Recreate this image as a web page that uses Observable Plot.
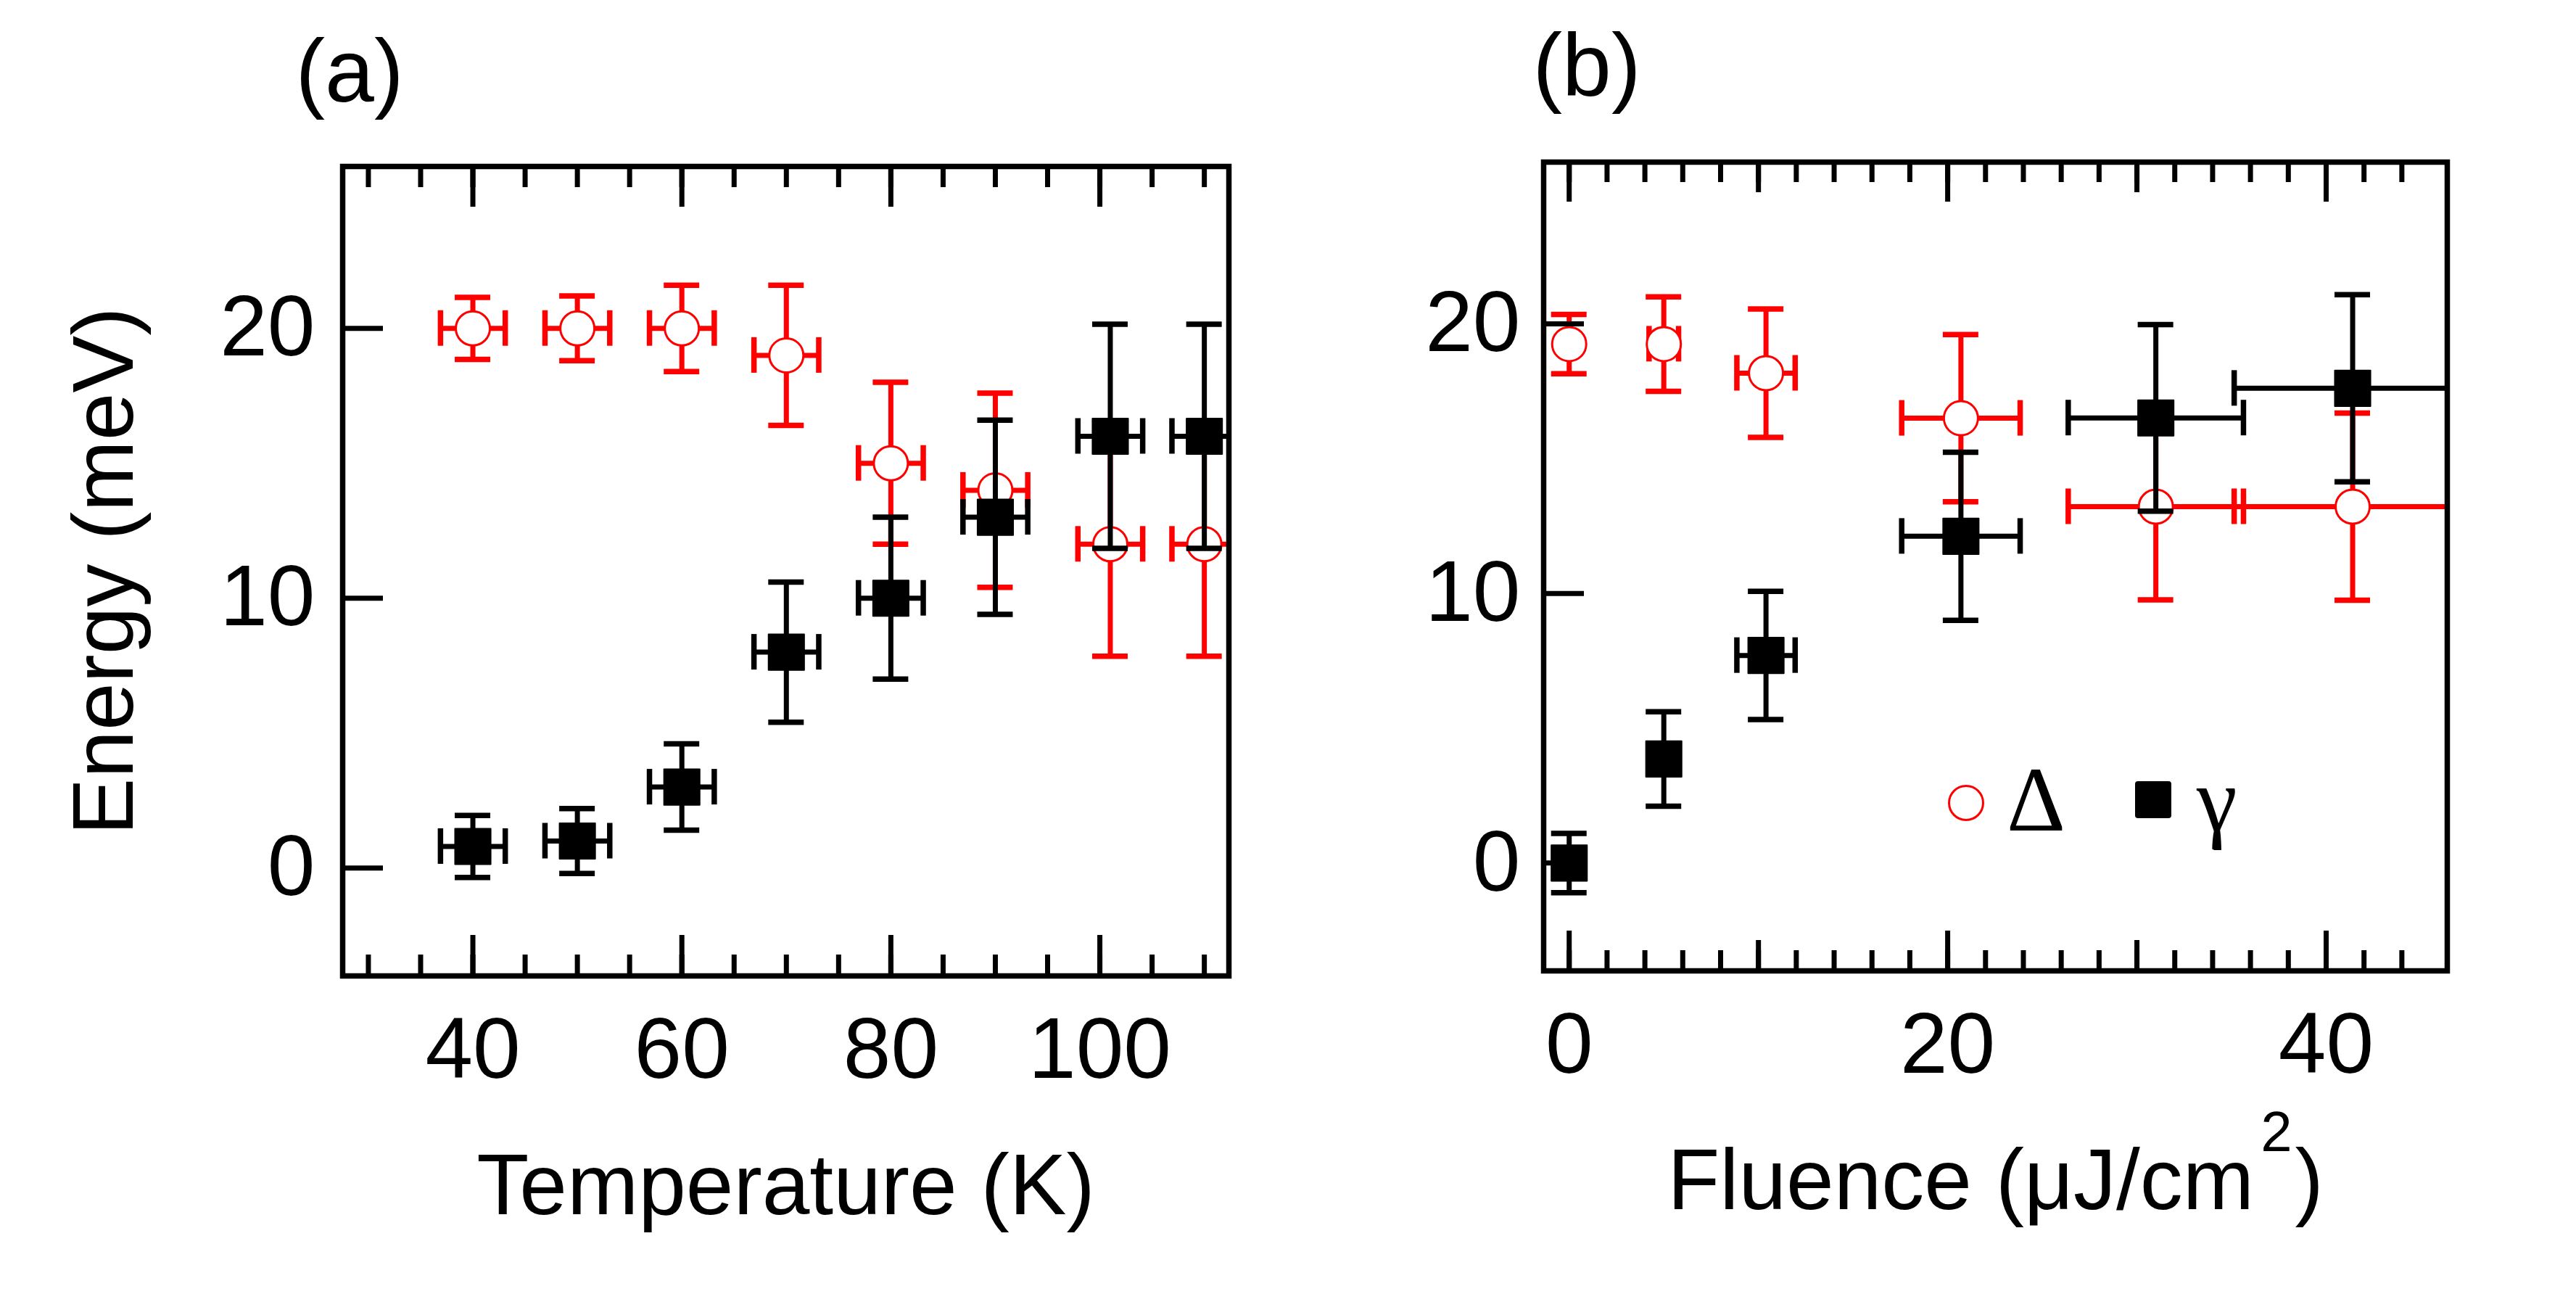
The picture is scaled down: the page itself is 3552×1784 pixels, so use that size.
<!DOCTYPE html>
<html>
<head>
<meta charset="utf-8">
<script src="https://cdn.jsdelivr.net/npm/d3@7"></script>
<script src="https://cdn.jsdelivr.net/npm/@observablehq/plot@0.6"></script>
<style>
  html, body { margin: 0; padding: 0; background: #fff; }
  #wrap { position: relative; width: 3552px; height: 1784px; overflow: hidden; background: #fff; }
  #pa, #pb { position: absolute; top: 0; }
  #pa { left: 0; }
  #pb { left: 1776px; }
  #overlay { position: absolute; left: 0; top: 0; pointer-events: none; }
</style>
</head>
<body>
<div id="wrap">
  <div id="pa"></div>
  <div id="pb"></div>
  <svg id="overlay" width="3552" height="1784" xmlns="http://www.w3.org/2000/svg"></svg>
</div>
<script>
// ---------- Data: panel (a) temperature dependence ----------
const tempK      = [40, 50, 60, 70, 80, 90, 101, 110];
const tempErrK   = [3.1, 3.1, 3.1, 3.1, 3.1, 3.1, 3.1, 3.1];
const deltaT     = [20, 20, 20, 19, 15, 14, 12, 12];
const deltaTErr  = [1.15, 1.2, 1.6, 2.6, 3.0, 3.6, 4.15, 4.15];
const gammaT     = [0.8, 1.0, 3.0, 8.0, 10.0, 13.0, 16.0, 16.0];
const gammaTErr  = [1.15, 1.2, 1.6, 2.6, 3.0, 3.6, 4.15, 4.15];

// ---------- Data: panel (b) fluence dependence ----------
const fluence    = [0, 5, 10.4, 20.7, 31.0, 41.4];
const fluenceErr = [0, 0.78, 1.54, 3.13, 4.63, 6.26];
const deltaF     = [19.25, 19.25, 18.17, 16.5, 13.22, 13.22];
const deltaFErr  = [1.1, 1.75, 2.38, 3.1, 3.46, 3.47];
const gammaF     = [0, 3.86, 7.7, 12.12, 16.51, 17.61];
const gammaFErr  = [1.1, 1.75, 2.38, 3.12, 3.46, 3.47];

// ---------- Ticks / labels ----------
const aTickMinor = [30, 35, 40, 45, 50, 55, 60, 65, 70, 75, 80, 85, 90, 95, 100, 105, 110];
const aTickMajor = [40, 60, 80, 100];
const bTickMinor = [0, 2, 4, 6, 8, 10, 12, 14, 16, 18, 20, 22, 24, 26, 28, 30, 32, 34, 36, 38, 40, 42, 44];
const bTickMid   = [10, 30];
const bTickMajor = [0, 20, 40];
const yTicks     = [0, 10, 20];
const panelLabels = ["(a)", "(b)"];
const legendLabels = ["Δ", "γ"];
const xTitleA = "Temperature (K)";
const xTitleB = "Fluence (μJ/cm2)";
const yTitle = "Energy (meV)";

const RED = "#ff0000", BLACK = "#000000";
const W = 1776, H = 1784, CAP = 24.5, FONT = "'Liberation Sans', Arial, Helvetica, sans-serif";

function rows(xs, xe, ys, ye) {
  return xs.map((x, i) => ({x, xe: xe[i], y: ys[i], ye: ye[i]}));
}

function seriesMarks(data, color, circle) {
  const bar = {stroke: color, strokeWidth: 7, clip: true};
  const cap = {stroke: color, strokeWidth: 7.5, clip: true};
  const wx = data.filter(d => d.xe > 0);
  return [
    Plot.ruleY(wx, {y: "y", x1: d => d.x - d.xe, x2: d => d.x + d.xe, ...bar}),
    Plot.ruleX(wx, {x: d => d.x - d.xe, y1: "y", y2: "y", insetTop: -CAP, insetBottom: -CAP, ...cap}),
    Plot.ruleX(wx, {x: d => d.x + d.xe, y1: "y", y2: "y", insetTop: -CAP, insetBottom: -CAP, ...cap}),
    Plot.ruleX(data, {x: "x", y1: d => d.y - d.ye, y2: d => d.y + d.ye, ...bar}),
    Plot.ruleY(data, {y: d => d.y + d.ye, x1: "x", x2: "x", insetLeft: -CAP, insetRight: -CAP, ...cap}),
    Plot.ruleY(data, {y: d => d.y - d.ye, x1: "x", x2: "x", insetLeft: -CAP, insetRight: -CAP, ...cap}),
    circle
      ? Plot.dot(data, {x: "x", y: "y", r: 23.5, fill: "white", stroke: color, strokeWidth: 3})
      : Plot.dot(data, {x: "x", y: "y", r: 27.7, symbol: "square", fill: color, stroke: color, strokeWidth: 2, strokeLinejoin: "round"})
  ];
}

function tickMarks(values, len, plotH) {
  const o = {stroke: BLACK, strokeWidth: 7};
  return [
    Plot.tickX(values, {x: d => d, insetTop: plotH - len, ...o}),
    Plot.tickX(values, {x: d => d, insetBottom: plotH - len, ...o})
  ];
}

function panel(cfg) {
  const plotH = H - cfg.mt - cfg.mb;
  const plotW = W - cfg.ml - cfg.mr;
  return Plot.plot({
    width: W, height: H,
    marginLeft: cfg.ml, marginRight: cfg.mr, marginTop: cfg.mt, marginBottom: cfg.mb,
    style: {fontFamily: FONT, fontSize: "118px", background: "white", color: "black", overflow: "visible"},
    x: {domain: cfg.xDomain},
    y: {domain: [-4, 26]},
    marks: [
      ...seriesMarks(cfg.delta, RED, true),
      ...seriesMarks(cfg.gamma, BLACK, false),
      ...cfg.ticks.flatMap(([vals, len]) => tickMarks(vals, len, plotH)),
      Plot.tickY(yTicks, {y: d => d, insetRight: plotW - 56, stroke: BLACK, strokeWidth: 7}),
      Plot.axisX(cfg.xLabels, {tickSize: 0, tickPadding: 57, fontSize: 118, fontFamily: FONT,
        label: cfg.xTitle, labelAnchor: "center", labelOffset: 328, labelArrow: "none"}),
      Plot.axisY(yTicks, {tickSize: 0, tickPadding: cfg.yPad, fontSize: 118, fontFamily: FONT,
        label: cfg.yTitle, labelAnchor: "center", labelOffset: 373, labelArrow: "none"}),
      Plot.frame({stroke: BLACK, strokeWidth: 7.5})
    ]
  });
}

const svgA = panel({
  ml: 472, mr: W - 1694, mt: 229, mb: H - 1345,
  xDomain: [27.54, 112.35],
  delta: rows(tempK, tempErrK, deltaT, deltaTErr),
  gamma: rows(tempK, tempErrK, gammaT, gammaTErr),
  ticks: [[aTickMinor, 29], [aTickMajor, 56]],
  xLabels: aTickMajor, xTitle: xTitleA, yTitle: yTitle, yPad: 38
});
const svgB = panel({
  ml: 2128 - 1776, mr: W - (3374 - 1776), mt: 223, mb: H - 1338,
  xDomain: [-1.35, 46.4],
  delta: rows(fluence, fluenceErr, deltaF, deltaFErr),
  gamma: rows(fluence, fluenceErr, gammaF, gammaFErr),
  ticks: [[bTickMinor, 28], [bTickMid, 42], [bTickMajor, 55]],
  xLabels: bTickMajor, xTitle: xTitleB, yTitle: null, yPad: 32
});
document.getElementById("pa").appendChild(svgA);
document.getElementById("pb").appendChild(svgB);

const NS = "http://www.w3.org/2000/svg";
function labelText(svg, which) {
  return svg.querySelector(`g[aria-label="${which}-axis label"] text`);
}
const ta = labelText(svgA, "x"); if (ta) ta.textContent = xTitleA;
const ty = labelText(svgA, "y"); if (ty) ty.textContent = yTitle;
const tb = labelText(svgB, "x");
if (tb) {
  const n = xTitleB.length;
  tb.textContent = "";
  tb.appendChild(document.createTextNode(xTitleB.slice(0, n - 2)));
  const sup = document.createElementNS(NS, "tspan");
  sup.setAttribute("font-size", "78");
  sup.setAttribute("dy", "-80");
  sup.setAttribute("dx", "9");
  sup.textContent = xTitleB.charAt(n - 2);
  tb.appendChild(sup);
  const close = document.createElementNS(NS, "tspan");
  close.setAttribute("font-size", "118");
  close.setAttribute("dy", "80");
  close.setAttribute("dx", "4");
  close.textContent = xTitleB.charAt(n - 1);
  tb.appendChild(close);
}

// ---------- overlay: panel letters and legend ----------
const ov = d3.select("#overlay");
const panelPos = [[482, 140], [2188, 132]];
panelLabels.forEach((s, i) => {
  ov.append("text").attr("x", panelPos[i][0]).attr("y", panelPos[i][1])
    .attr("text-anchor", "middle").attr("font-family", FONT).attr("font-size", 122)
    .attr("fill", BLACK).text(s);
});
const SERIF = "'Liberation Serif', 'Times New Roman', serif";
ov.append("circle").attr("cx", 2711).attr("cy", 1107).attr("r", 23.5)
  .attr("fill", "white").attr("stroke", RED).attr("stroke-width", 3);
ov.append("text").attr("x", 2767).attr("y", 1145)
  .attr("font-family", SERIF).attr("font-size", 126).attr("fill", BLACK).text(legendLabels[0]);
ov.append("rect").attr("x", 2944).attr("y", 1077).attr("width", 50).attr("height", 51).attr("rx", 4)
  .attr("fill", BLACK);
ov.append("text").attr("x", 3029).attr("y", 1145)
  .attr("font-family", SERIF).attr("font-size", 126).attr("fill", BLACK).text(legendLabels[1]);
</script>
</body>
</html>
